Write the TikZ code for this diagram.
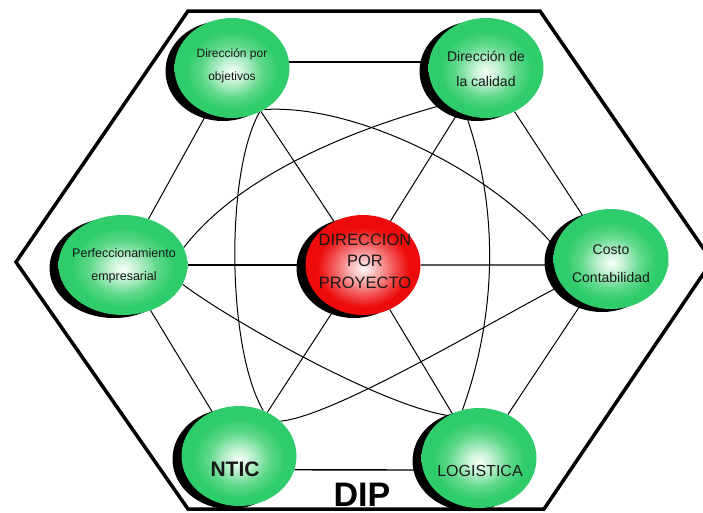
\documentclass[tikz,border=0pt]{standalone}
\usepackage{fontspec}
\setmainfont{Liberation Sans}
\usetikzlibrary{shapes.geometric,shadows}
\pgfdeclareradialshading{greenball}{\pgfpoint{0bp}{-2bp}}{rgb(0bp)=(0.97,1,0.98); rgb(5bp)=(0.78,0.95,0.84); rgb(13bp)=(0.38,0.85,0.55); rgb(20bp)=(0.18,0.80,0.42); rgb(25bp)=(0.18,0.80,0.42); rgb(50bp)=(0.18,0.80,0.42)}
\pgfdeclareradialshading{redball}{\pgfpoint{0bp}{-2bp}}{rgb(0bp)=(1,0.97,0.97); rgb(5bp)=(0.98,0.75,0.75); rgb(13bp)=(0.95,0.35,0.35); rgb(20bp)=(0.93,0.04,0.04); rgb(25bp)=(0.93,0.04,0.04); rgb(50bp)=(0.93,0.04,0.04)}
\pgfdeclarelayer{background}
\pgfsetlayers{background,main}
\tikzset{
  ball/.style={ellipse, draw=none, minimum width=115pt, minimum height=100pt, inner sep=0pt, shade, shading=greenball, drop shadow={shadow xshift=-9pt, shadow yshift=-3pt, fill=black, opacity=1}},
  redb/.style={ball, shading=redball},
  lbl/.style={align=center, text=black!90, inner sep=0pt},
  link/.style={draw=black, line width=1pt},
  ringlink/.style={draw=black, line width=1.3pt},
  hexline/.style={draw=black, line width=3.5pt, line join=miter}
}
\begin{document}
\begin{tikzpicture}[x=1pt,y=-1pt]
\useasboundingbox (0,0) rectangle (703,512);
% nodes
\node[ball] (dpo) at (232,68) {};
\node[ball] (dc) at (486,68) {};
\node[ball, minimum width=129pt] (pe) at (123,265) {};
\node[ball] (cc) at (611,259) {};
\node[redb] (ctr) at (363,265) {};
\node[ball] (ntic) at (239,456) {};
\node[ball] (log) at (479,458) {};
% labels
\node[lbl, font=\fontsize{12}{23}\selectfont] (dpoT) at (232,66) {Dirección por\\objetivos};
\node[lbl, font=\fontsize{14}{25}\selectfont] (dcT) at (486,69) {Dirección de\\la calidad};
\node[lbl, font=\fontsize{12.5}{23}\selectfont] (peT) at (124,266) {Perfeccionamiento\\empresarial};
\node[lbl, font=\fontsize{14}{28}\selectfont] (ccT) at (611,264) {Costo\\Contabilidad};
\node[lbl, font=\fontsize{16.5}{21.5}\selectfont] (ctrT) at (365,261) {DIRECCION\\POR\\PROYECTO};
\node[lbl, font=\bfseries\fontsize{21}{21}\selectfont] (nticT) at (235,469) {NTIC};
\node[lbl, font=\fontsize{16}{16}\selectfont] (logT) at (480,471) {LOGISTICA};
\node[font=\bfseries\fontsize{34}{34}\selectfont, anchor=base, inner sep=0pt] (dip) at (362,506) {DIP};
% hexagon corners
\coordinate (h1) at (188,11);
\coordinate (h2) at (540,11);
\coordinate (h3) at (712,261);
\coordinate (h4) at (544,509);
\coordinate (h5) at (188,509);
\coordinate (h6) at (16,262);
\begin{pgfonlayer}{background}
\draw[hexline] (h1) -- (h2) -- (h3) -- (h4) -- (h5) -- (h6) -- cycle;
% ring
\draw[ringlink] (dpo.6) -- (dc.174);
\draw[ringlink] (ntic.-14) -- (log.192);
\draw[link] (dpo) -- (pe);
\draw[link] (dc) -- (cc);
\draw[link] (cc) -- (log);
\draw[link] (ntic) -- (pe);
% spokes
\draw[ringlink] (pe) -- (ctr);
\draw[ringlink] (ctr.east) -- (cc.-6);
\draw[link] (ctr) -- (dpo);
\draw[link] (ctr) -- (dc);
\draw[link] (ctr) -- (ntic);
\draw[link] (ctr) -- (log);
% curves
\draw[link] (dpo.-52) .. controls (355,104) and (490,170) .. (cc.168);
\draw[link] (dc.-138) .. controls (350,130) and (240,175) .. (pe.16);
\draw[link] (pe.-18) .. controls (230,320) and (380,405) .. (log.126);
\draw[link] (cc.-152) .. controls (490,322) and (335,416) .. (ntic.40);
\draw[link] (dpo.-58) .. controls (225,173) and (227,349) .. (ntic.62);
\draw[link] (dc.-113) .. controls (499,209) and (497,314) .. (log.109);
\end{pgfonlayer}
\end{tikzpicture}
\end{document}
